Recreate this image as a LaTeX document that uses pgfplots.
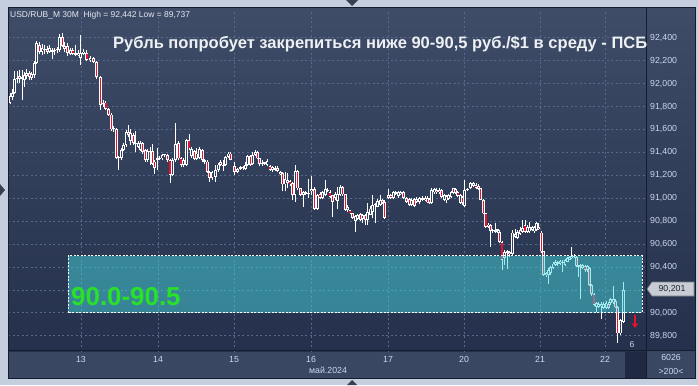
\documentclass[border=0pt]{standalone}
\usepackage{pgfplots}
\pgfplotsset{compat=1.18}
\usepackage{pgfplotstable}
\usepackage{fontspec}
\setmainfont{Liberation Sans}
\usetikzlibrary{arrows.meta}
\definecolor{framec}{RGB}{196,206,222}
\definecolor{bgtop}{RGB}{62,76,104}
\definecolor{bgbot}{RGB}{36,48,76}
\definecolor{bandc}{RGB}{58,71,99}
\definecolor{gridc}{RGB}{88,104,138}
\definecolor{tickc}{RGB}{205,215,235}
\definecolor{redc}{RGB}{232,18,45}
\definecolor{holc}{RGB}{50,62,92}
\definecolor{tealc}{RGB}{70,215,222}
\definecolor{greenc}{RGB}{40,225,40}
\definecolor{linec}{RGB}{20,28,45}
\definecolor{tagc}{RGB}{200,204,212}

\pgfplotstableread{
x o h l c
10 91.83 91.917 91.824 91.888
12.4 91.88 91.95 91.86 91.92
14.8 91.917 92.106 91.91 92.04
17.2 92.04 92.106 92.005 92.05
19.6 92.062 92.12 92.007 92.04
22 92.04 92.12 91.853 92.055
24.4 92.035 92.10 91.97 92.075
26.8 92.07 92.13 92.04 92.09
29.2 92.09 92.11 92.03 92.06
31.6 92.05 92.10 92.03 92.08
34.2 92.077 92.20 92.05 92.18
36.7 92.18 92.376 92.17 92.354
39.4 92.34 92.365 92.26 92.28
42 92.28 92.348 92.25 92.31
44.6 92.30 92.34 92.26 92.29
47.2 92.30 92.33 92.26 92.28
49.8 92.28 92.34 92.27 92.31
52.4 92.28 92.31 92.214 92.29
54.8 92.285 92.31 92.25 92.295
57.2 92.29 92.32 92.27 92.30
59.7 92.29 92.435 92.28 92.41
62.3 92.41 92.442 92.32 92.33
64.9 92.30 92.36 92.28 92.33
67.5 92.325 92.35 92.243 92.267
70.2 92.26 92.31 92.25 92.295
72.9 92.29 92.31 92.25 92.26
75.5 92.25 92.34 92.24 92.266
78.1 92.25 92.29 92.24 92.27
80.7 92.225 92.426 92.164 92.265
83.7 92.26 92.30 92.25 92.28
86.9 92.266 92.29 92.20 92.21
90 92.205 92.24 92.19 92.225
93.3 92.22 92.235 92.18 92.19
96.6 92.19 92.20 92.04 92.057
100.3 92.057 92.07 91.77 91.815
103.2 91.82 91.86 91.80 91.835
105.9 91.835 91.85 91.77 91.78
108.6 91.78 91.79 91.72 91.728
111.2 91.73 91.74 91.59 91.60
113.7 91.60 91.63 91.58 91.61
116.3 91.60 91.61 91.34 91.35
118.8 91.35 91.37 91.246 91.36
121.2 91.35 91.44 91.33 91.42
123.6 91.42 91.48 91.41 91.465
126 91.465 91.595 91.45 91.58
128.4 91.58 91.638 91.53 91.55
130.8 91.50 91.60 91.46 91.57
133.2 91.55 91.57 91.46 91.48
135.6 91.47 91.586 91.405 91.48
138 91.45 91.50 91.44 91.478
140.4 91.42 91.50 91.41 91.478
142.8 91.478 91.49 91.39 91.405
145.2 91.42 91.43 91.32 91.333
147.6 91.333 91.43 91.32 91.41
150 91.41 91.45 91.29 91.40
152.4 91.41 91.47 91.29 91.30
154.8 91.32 91.33 91.21 91.26
157.2 91.333 91.44 91.25 91.347
159.6 91.34 91.37 91.33 91.35
162 91.347 91.39 91.33 91.376
164.6 91.375 91.39 91.36 91.38
167.2 91.38 91.39 91.32 91.33
170 91.333 91.34 91.135 91.20
172.8 91.20 91.35 91.19 91.333
175.6 91.333 91.652 91.32 91.47
178.4 91.478 91.50 91.33 91.347
181 91.347 91.36 91.27 91.29
183.6 91.29 91.35 91.27 91.335
186.3 91.29 91.52 91.28 91.507
189 91.507 91.556 91.42 91.434
191.6 91.365 91.45 91.35 91.43
194.2 91.41 91.42 91.33 91.34
196.8 91.34 91.434 91.33 91.39
199.4 91.35 91.45 91.34 91.43
202.2 91.42 91.43 91.32 91.333
204.8 91.333 91.34 91.30 91.32
207.2 91.32 91.33 91.22 91.23
209.6 91.23 91.24 91.144 91.178
212 91.178 91.24 91.16 91.23
215.5 91.187 91.29 91.144 91.245
218.4 91.245 91.31 91.23 91.294
220.8 91.312 91.33 91.28 91.29
223.2 91.28 91.333 91.237 91.29
225.6 91.29 91.37 91.28 91.362
228 91.36 91.40 91.35 91.39
230.5 91.39 91.40 91.33 91.333
234.5 91.28 91.32 91.20 91.225
237.8 91.23 91.26 91.22 91.254
240.4 91.255 91.28 91.25 91.27
243 91.26 91.28 91.25 91.27
245.4 91.255 91.318 91.25 91.29
247.8 91.29 91.38 91.28 91.37
250.2 91.37 91.38 91.28 91.29
252.6 91.295 91.40 91.29 91.38
255 91.38 91.42 91.37 91.405
257.4 91.40 91.41 91.34 91.347
259.8 91.347 91.35 91.28 91.295
262.2 91.295 91.33 91.28 91.31
264.6 91.30 91.32 91.29 91.31
267 91.29 91.34 91.28 91.325
270 91.28 91.29 91.24 91.245
272.7 91.245 91.28 91.23 91.27
275.3 91.25 91.28 91.24 91.265
277.7 91.265 91.28 91.23 91.24
280.1 91.21 91.24 91.20 91.23
282.5 91.216 91.23 91.062 91.12
285 91.12 91.23 91.06 91.17
287.5 91.13 91.22 91.085 91.16
290 91.15 91.16 91.11 91.12
292.5 91.13 91.14 90.984 91.027
295 91.027 91.29 90.97 91.237
297.6 91.237 91.25 91.07 91.085
300.4 91.085 91.09 91.02 91.027
303.2 91.03 91.06 90.925 91.05
305.9 91.04 91.06 91.03 91.05
308.5 91.035 91.17 91.0 91.045
311.1 91.06 91.19 91.03 91.08
314.6 91.08 91.10 90.896 90.905
317.4 90.905 91.04 90.90 91.027
320 91.04 91.05 90.99 91.0
322.7 91.0 91.06 90.99 91.055
325.2 91.03 91.16 91.02 91.08
327.6 91.06 91.09 91.05 91.07
330 91.056 91.07 91.0 91.012
332.4 91.027 91.03 90.838 90.97
335 91.0 91.05 90.98 91.033
337.5 90.975 91.10 90.91 91.04
340 91.027 91.115 91.02 91.10
342.6 91.10 91.11 91.02 91.033
345.1 91.033 91.04 90.89 90.896
347.6 90.895 90.94 90.88 90.925
350 90.896 90.90 90.86 90.867
352.6 90.867 90.87 90.82 90.83
355.2 90.80 90.85 90.707 90.845
357.7 90.82 90.86 90.81 90.853
360.2 90.858 90.87 90.80 90.81
362.7 90.82 90.86 90.78 90.85
365.1 90.85 90.86 90.765 90.81
367.6 90.81 90.954 90.77 90.88
370.1 90.855 90.93 90.85 90.91
372.7 90.88 91.027 90.823 90.94
375.2 90.94 90.96 90.78 90.95
377.7 90.925 90.99 90.92 90.975
380.1 90.94 91.027 90.93 90.985
382.4 90.985 90.995 90.95 90.955
384.8 90.97 90.98 90.82 90.83
388.4 91.003 91.08 90.99 91.027
390.9 91.027 91.04 90.99 91.003
393.4 91.0 91.06 90.99 91.05
395.9 91.04 91.06 91.03 91.05
398.4 91.02 91.06 91.0 91.05
400.9 91.035 91.065 91.03 91.056
403.8 91.05 91.06 90.99 91.003
406.5 91.0 91.01 90.96 90.97
409.2 90.99 91.0 90.93 90.945
411.8 90.945 91.0 90.93 90.985
414.3 90.99 91.0 90.92 90.933
416.8 90.97 91.01 90.96 90.995
419.5 90.965 91.01 90.95 91.0
422.5 91.003 91.02 90.975 90.985
425 90.985 91.02 90.975 91.005
427.4 91.005 91.02 90.955 90.963
429.6 90.99 91.0 90.95 90.955
431.9 90.955 91.09 90.95 91.07
434.2 91.05 91.09 91.04 91.08
436.5 91.075 91.085 91.04 91.05
439.2 91.05 91.09 91.04 91.075
441.7 91.07 91.08 91.0 91.01
444.1 90.985 91.04 90.975 91.027
446.4 90.98 91.03 90.954 91.015
448.7 90.99 91.04 90.98 91.03
451 91.01 91.065 91.0 91.056
453.3 91.045 91.09 91.04 91.085
455.6 91.08 91.09 91.04 91.05
457.9 91.056 91.065 91.01 91.02
460.1 90.96 91.04 90.95 91.03
462.3 91.01 91.02 90.94 90.955
464.8 90.93 91.158 90.92 91.07
467.6 91.07 91.09 91.06 91.08
470.6 91.09 91.14 91.08 91.13
473.3 91.11 91.144 91.10 91.13
476 91.115 91.13 91.08 91.09
478.4 91.11 91.12 91.07 91.08
480.8 91.085 91.09 90.98 90.984
483.3 90.984 90.99 90.86 90.867
485.9 90.867 90.87 90.74 90.75
488.3 90.75 90.78 90.74 90.77
490.6 90.765 90.775 90.576 90.713
492.9 90.71 90.73 90.70 90.72
495.1 90.705 90.78 90.70 90.72
497.3 90.715 90.735 90.70 90.725
499.5 90.707 90.72 90.61 90.62
502 90.62 90.63 90.373 90.46
504.7 90.475 90.55 90.416 90.53
507.3 90.52 90.55 90.386 90.535
509.8 90.53 90.54 90.49 90.51
512.4 90.515 90.72 90.50 90.70
515 90.66 90.73 90.65 90.69
517.5 90.65 90.72 90.64 90.707
520 90.69 90.75 90.68 90.72
522.5 90.707 90.81 90.70 90.736
525 90.765 90.81 90.70 90.707
527.4 90.707 90.77 90.70 90.75
529.7 90.71 90.795 90.70 90.745
532 90.72 90.76 90.71 90.745
534.2 90.71 90.76 90.70 90.75
536.4 90.72 90.79 90.71 90.78
538.7 90.75 90.786 90.72 90.727
541.1 90.70 90.71 90.52 90.535
543.5 90.535 90.54 90.32 90.33
546 90.33 90.36 90.31 90.35
548.4 90.33 90.39 90.25 90.373
550.8 90.345 90.41 90.33 90.40
553 90.39 90.44 90.38 90.43
555.3 90.42 90.46 90.41 90.445
557.6 90.425 90.45 90.41 90.44
560 90.43 90.46 90.42 90.45
562.5 90.435 90.46 90.358 90.445
565 90.42 90.47 90.41 90.46
567.3 90.445 90.49 90.44 90.475
569.5 90.465 90.50 90.46 90.49
571.8 90.475 90.57 90.47 90.495
574 90.485 90.51 90.48 90.495
576.2 90.49 90.50 90.40 90.41
578.4 90.415 90.42 90.315 90.40
580.5 90.40 90.425 90.12 90.415
582.8 90.395 90.43 90.38 90.415
585 90.41 90.42 90.36 90.373
587.3 90.375 90.42 90.36 90.41
589.5 90.387 90.40 90.23 90.24
591.8 90.24 90.25 90.15 90.163
594 90.163 90.17 90.06 90.067
596.3 90.053 90.09 90.009 90.082
598.6 90.055 90.09 90.04 90.08
601 90.06 90.09 89.942 90.08
603.6 90.04 90.09 90.03 90.08
606 90.04 90.10 90.03 90.085
608.4 90.08 90.09 90.03 90.04
610.8 90.085 90.13 90.07 90.118
613.2 90.09 90.23 90.08 90.12
615.5 90.105 90.12 90.04 90.047
617.8 90.053 90.06 89.737 89.82
620.3 89.82 89.95 89.81 89.937
623.5 89.92 90.27 89.91 90.201
}\candles

\begin{document}
\begin{tikzpicture}[x=1bp,y=1bp]
\path[use as bounding box] (0,0) rectangle (698,385);
\fill[framec] (0,0) rectangle (698,385);
% plot area, right panel and bottom band
\shade[top color=bgtop, bottom color=bgbot] (8,35) rectangle (695,377);
\fill[bandc] (8,7) rectangle (695,35);
\fill[bgbot!85!black] (625,7) rectangle (646,35);

\begin{axis}[
  at={(8,29)}, anchor=south west,
  x=1bp, y=114.6bp,
  enlargelimits=false,
  xmin=8, xmax=646, ymin=89.660, ymax=92.6443,
  axis line style={draw=none},
  major tick length=0pt,
  axis background/.style={top color=bgtop, bottom color=bgbot},
  grid=major,
  major grid style={draw=gridc, line width=0.7bp, dash pattern=on 2bp off 2.5bp},
  xtick={81,158,234,311,388,464,540,605},
  xticklabels={13,14,15,16,17,20,21,22},
  ytick={89.8,90.0,90.4,90.6,90.8,91.0,91.2,91.4,91.6,91.8,92.0,92.2,92.4},
  extra y ticks={90.2},
  extra y tick labels={},
  extra tick style={grid=major},
  yticklabel pos=right,
  /pgf/number format/fixed,
  /pgf/number format/fixed zerofill,
  /pgf/number format/precision=3,
  /pgf/number format/use comma,
  /pgf/number format/1000 sep={},
  /pgf/number format/assume math mode=true,
  yticklabel style={anchor=west, inner sep=0pt, xshift=4bp, font=\fontsize{8.8}{10}\selectfont, text=tickc},
  xticklabel style={anchor=center, inner sep=0pt, yshift=-8bp, font=\fontsize{8.8}{10}\selectfont, text=tickc},
]
% wicks
\addplot[draw=none, mark=none, forget plot,
  error bars/.cd, y dir=plus, y explicit, error mark=none,
  error bar style={draw=white, solid, line width=1bp}]
  table[x=x, y=l, y error expr={\thisrow{h}-\thisrow{l}}] {\candles};
% bodies
\addplot[draw=none, mark=none, forget plot,
  error bars/.cd, y dir=plus, y explicit, error mark=none,
  error bar style={draw=white, solid, line width=2.9bp, line cap=butt}]
  table[x=x, y expr={min(\thisrow{o},\thisrow{c})}, y error expr={max(abs(\thisrow{o}-\thisrow{c}),0.012)}] {\candles};
% bearish interiors
\addplot[draw=none, mark=none, forget plot,
  restrict expr to domain={\thisrow{o}-\thisrow{c}}{0.02:10},
  error bars/.cd, y dir=plus, y explicit, error mark=none,
  error bar style={draw=redc, solid, line width=1.2bp, line cap=butt}]
  table[x=x, y expr={\thisrow{c}+0.008}, y error expr={\thisrow{o}-\thisrow{c}-0.016}] {\candles};
% bullish interiors (hollow)
\addplot[draw=none, mark=none, forget plot,
  restrict expr to domain={\thisrow{c}-\thisrow{o}}{0.02:10},
  error bars/.cd, y dir=plus, y explicit, error mark=none,
  error bar style={draw=holc, solid, line width=1bp, line cap=butt}]
  table[x=x, y expr={\thisrow{o}+0.008}, y error expr={\thisrow{c}-\thisrow{o}-0.016}] {\candles};
% target zone
\fill[tealc, fill opacity=0.5] (axis cs:68,90.0) rectangle (axis cs:642,90.5);
\draw[white, line width=0.8bp, dash pattern=on 2bp off 1.5bp] (axis cs:68,90.0) rectangle (axis cs:642,90.5);
\end{axis}

% frame lines
\draw[linec, line width=1bp] (8,7) rectangle (695,377);
\draw[linec, line width=1bp] (646,7) -- (646,377);
\draw[linec, line width=1bp] (8,35) -- (695,35);

% texts
\node[anchor=base west, inner sep=0pt, text={rgb,255:red,238;green,240;blue,244}, font=\bfseries\fontsize{16.6}{19}\selectfont] at (113,337) {Рубль попробует закрепиться ниже 90-90,5 руб./\$1 в среду - ПСБ};
\node[anchor=base west, inner sep=0pt, text={rgb,255:red,228;green,232;blue,240}, font=\fontsize{8.5}{10}\selectfont] at (10,367.5) {USD/RUB\_M 30M\ \ High = 92,442 Low = 89,737};
\node[anchor=west, inner sep=0pt, text=greenc, font=\bfseries\fontsize{26}{30}\selectfont] at (71,88.5) {90.0-90.5};
\node[inner sep=0pt, text=tickc, font=\fontsize{8.8}{10}\selectfont] at (328,15) {май.2024};
\node[inner sep=0pt, text=tickc, font=\fontsize{8.8}{10}\selectfont] at (671,28) {6026};
\node[inner sep=0pt, text=tickc, font=\fontsize{8.8}{10}\selectfont] at (671,14) {>200<};
\node[inner sep=0pt, text=tickc, font=\fontsize{8.5}{10}\selectfont] at (632,40) {6};
% price tag
\filldraw[fill=tagc, draw={rgb,255:red,120;green,125;blue,135}, line width=0.6bp] (647,96) -- (652,103) -- (694,103) -- (694,89) -- (652,89) -- cycle;
\node[inner sep=0pt, text={rgb,255:red,30;green,34;blue,44}, font=\fontsize{8.8}{10}\selectfont] at (672,96) {90,201};
% red arrow
\draw[redc, line width=1.6bp, -{Stealth[length=5bp,width=7bp]}] (635,70) -- (635,57);
% frame triangles
\fill[linec!80!framec] (346,385) -- (358,385) -- (352,379) -- cycle;
\fill[linec!80!framec] (347,0) -- (357,0) -- (352,5) -- cycle;
\fill[linec!80!framec] (0,201) -- (0,189) -- (5,195) -- cycle;
\end{tikzpicture}
\end{document}
